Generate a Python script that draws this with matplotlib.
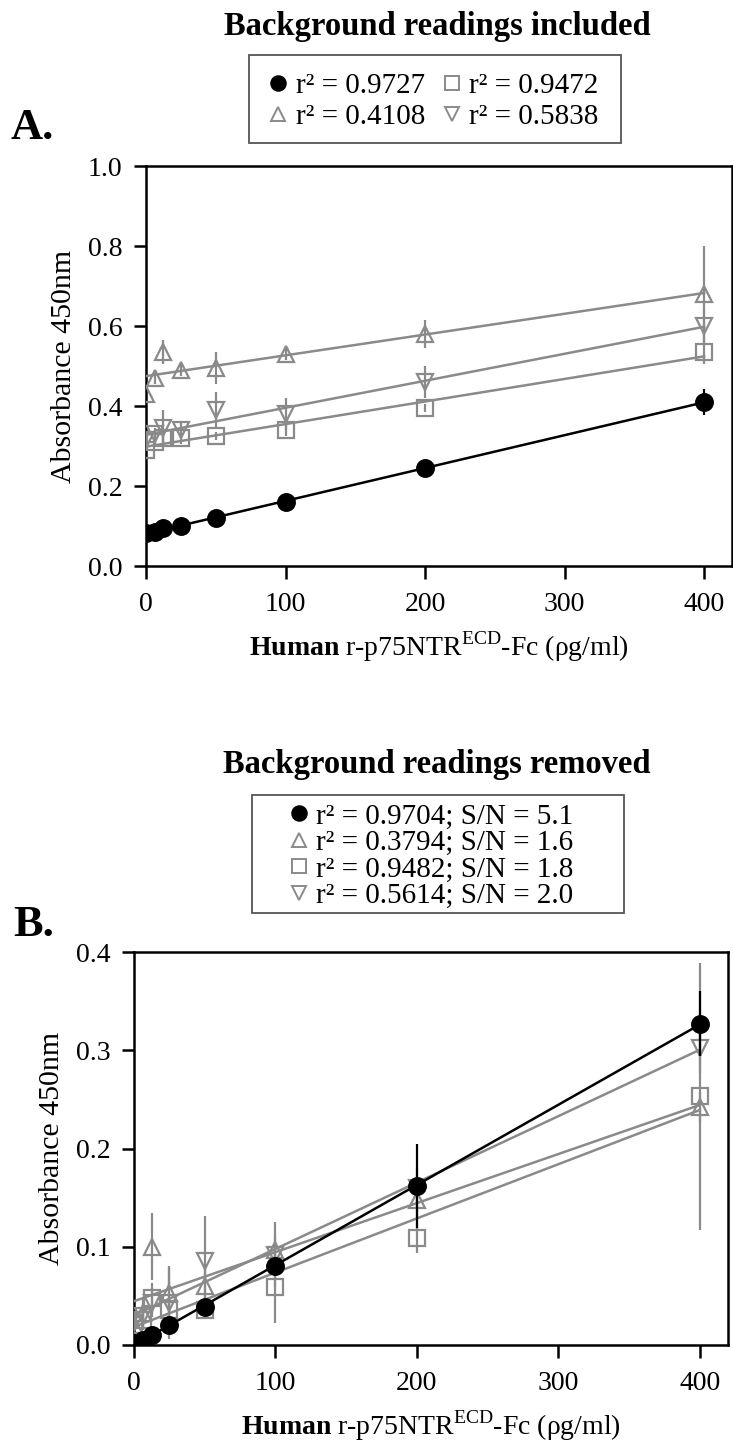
import numpy as np
import matplotlib
matplotlib.use("Agg")
import matplotlib.pyplot as plt
from matplotlib.lines import Line2D
from matplotlib.patches import Rectangle

plt.rcParams['font.family'] = ['Liberation Serif', 'DejaVu Serif']
plt.rcParams['mathtext.fontset'] = 'custom'
plt.rcParams['mathtext.rm'] = 'Liberation Serif'
plt.rcParams['mathtext.bf'] = 'Liberation Serif:bold'

#####################################
# datos
conc = [0, 6.25, 12.5, 25, 50, 100, 200, 400]  # pg/ml

# panel A (con fondo)
a_circ = [0.082, 0.085, 0.095, 0.100, 0.120, 0.160, 0.245, 0.410]
a_circ_err = [0.005, 0.005, 0.005, 0.005, 0.008, 0.008, 0.010, 0.032]
a_tri = [0.430, 0.470, 0.535, 0.490, 0.495, 0.530, 0.580, 0.680]
a_tri_err = [0.015, 0.015, 0.030, 0.015, 0.040, 0.015, 0.035, 0.120]
a_sq = [0.290, 0.310, 0.320, 0.320, 0.325, 0.340, 0.395, 0.535]
a_sq_err = [0.010, 0.010, 0.010, 0.015, 0.010, 0.015, 0.010, 0.030]
a_itri = [0.315, 0.330, 0.345, 0.340, 0.390, 0.380, 0.460, 0.600]
a_itri_err = [0.010, 0.015, 0.045, 0.020, 0.045, 0.040, 0.040, 0.040]

# panel B (fondo restado)
b_circ = [0.002, 0.005, 0.010, 0.020, 0.039, 0.080, 0.162, 0.327]
b_circ_err = [0.002, 0.003, 0.004, 0.005, 0.006, 0.010, 0.043, 0.033]
b_tri = [0.020, 0.033, 0.100, 0.053, 0.060, 0.097, 0.148, 0.242]
b_tri_err = [0.010, 0.015, 0.034, 0.025, 0.020, 0.015, 0.020, 0.015]
b_sq = [0.020, 0.025, 0.048, 0.036, 0.036, 0.059, 0.109, 0.253]
b_sq_err = [0.008, 0.010, 0.015, 0.012, 0.010, 0.037, 0.015, 0.136]
b_itri = [0.022, 0.030, 0.043, 0.043, 0.086, 0.092, 0.160, 0.302]
b_itri_err = [0.010, 0.012, 0.015, 0.037, 0.045, 0.033, 0.020, 0.025]

a_labels = ['r² = 0.9727', 'r² = 0.4108', 'r² = 0.9472', 'r² = 0.5838']
b_labels = ['r² = 0.9704; S/N = 5.1', 'r² = 0.3794; S/N = 1.6',
            'r² = 0.9482; S/N = 1.8', 'r² = 0.5614; S/N = 2.0']
#####################################

gris = '#8a8a8a'
estilos = [  # marcador, color, relleno, tamaño
    ('o', 'black', 'black', 12),
    ('^', gris, 'none', 12),
    ('s', gris, 'none', 11.5),
    ('v', gris, 'none', 12),
]

W, H = 733, 1442
fig = plt.figure(figsize=(W / 100, H / 100), dpi=100)
axA = fig.add_axes([146 / W, 1 - 566 / H, 586 / W, 400 / H])
axB = fig.add_axes([134 / W, 1 - 1345 / H, 594 / W, 393 / H])


def dibujar(ax, series, errores, ymax, paso):
    x = np.array(conc)
    xs = np.linspace(0, 400, 50)
    # primero las grises, luego la negra encima
    for k in [1, 2, 3, 0]:
        m, c, fc, ms = estilos[k]
        y = np.array(series[k])
        z = 5 if k == 0 else 2
        ax.errorbar(x, y, yerr=errores[k], fmt='none', ecolor=c, elinewidth=1.6,
                    capsize=0, zorder=z)
        p = np.polyfit(x, y, 1)
        ax.plot(xs, np.polyval(p, xs), color=c, lw=1.8, zorder=z + 1)
        ax.plot(x, y, ls='none', marker=m, ms=ms, mec=c, mfc=fc, mew=1.6, zorder=z + 1)
    ax.set_xlim(0, 420)
    ax.set_ylim(0, ymax)
    ax.set_xticks([0, 100, 200, 300, 400])
    ax.set_yticks(np.arange(0, ymax + 1e-9, paso))
    ax.yaxis.set_major_formatter(matplotlib.ticker.FormatStrFormatter('%.1f'))
    ax.tick_params(direction='out', length=9, width=1.8, labelsize=20, pad=8)
    ax.tick_params(axis='x', pad=10)
    for s in ax.spines.values():
        s.set_linewidth(1.8)
    ax.set_ylabel('Absorbance 450nm', fontsize=21.5, labelpad=8)
    ax.set_xlabel(r'$\mathbf{Human}$ r-p75NTR$^{\rm ECD}$-Fc (ρg/ml)', fontsize=20, labelpad=9)


dibujar(axA, [a_circ, a_tri, a_sq, a_itri], [a_circ_err, a_tri_err, a_sq_err, a_itri_err], 1.0, 0.2)
dibujar(axB, [b_circ, b_tri, b_sq, b_itri], [b_circ_err, b_tri_err, b_sq_err, b_itri_err], 0.4, 0.1)


def manijas(etiquetas):
    hs = []
    for (m, c, fc, ms), lab in zip(estilos, etiquetas):
        hs.append(Line2D([], [], ls='none', marker=m, ms=10.5 if m != 's' else 10, mec=c,
                         mfc=fc, mew=1.4, label=lab))
    return hs


def caja(x0, y0, x1, y1):
    fig.patches.append(Rectangle((x0 / W, 1 - y1 / H), (x1 - x0) / W, (y1 - y0) / H,
                                 transform=fig.transFigure, fill=False,
                                 edgecolor='#555555', lw=1.3))


fig.legend(handles=manijas(a_labels), ncol=2, loc='center', bbox_to_anchor=(434 / W, 1 - 101.5 / H),
           fontsize=21, frameon=False, handlelength=0.6, handletextpad=0.3,
           columnspacing=0.6, labelspacing=0.15, borderpad=0)
caja(249, 55, 621, 143)
fig.legend(handles=manijas(b_labels), ncol=1, loc='center', bbox_to_anchor=(432 / W, 1 - 856 / H),
           fontsize=21, frameon=False, handlelength=0.6, handletextpad=0.3,
           labelspacing=0.0, borderpad=0)
caja(252, 795, 624, 913)

fig.text(437 / W, 1 - 27 / H, 'Background readings included', ha='center', va='center',
         fontsize=23.5, fontweight='bold')
fig.text(437 / W, 1 - 765 / H, 'Background readings removed', ha='center', va='center',
         fontsize=23.5, fontweight='bold')
fig.text(11 / W, 1 - 128 / H, 'A.', ha='left', va='center', fontsize=32, fontweight='bold')
fig.text(13 / W, 1 - 925 / H, 'B.', ha='left', va='center', fontsize=32, fontweight='bold')

fig.savefig('out.png', dpi=100)
